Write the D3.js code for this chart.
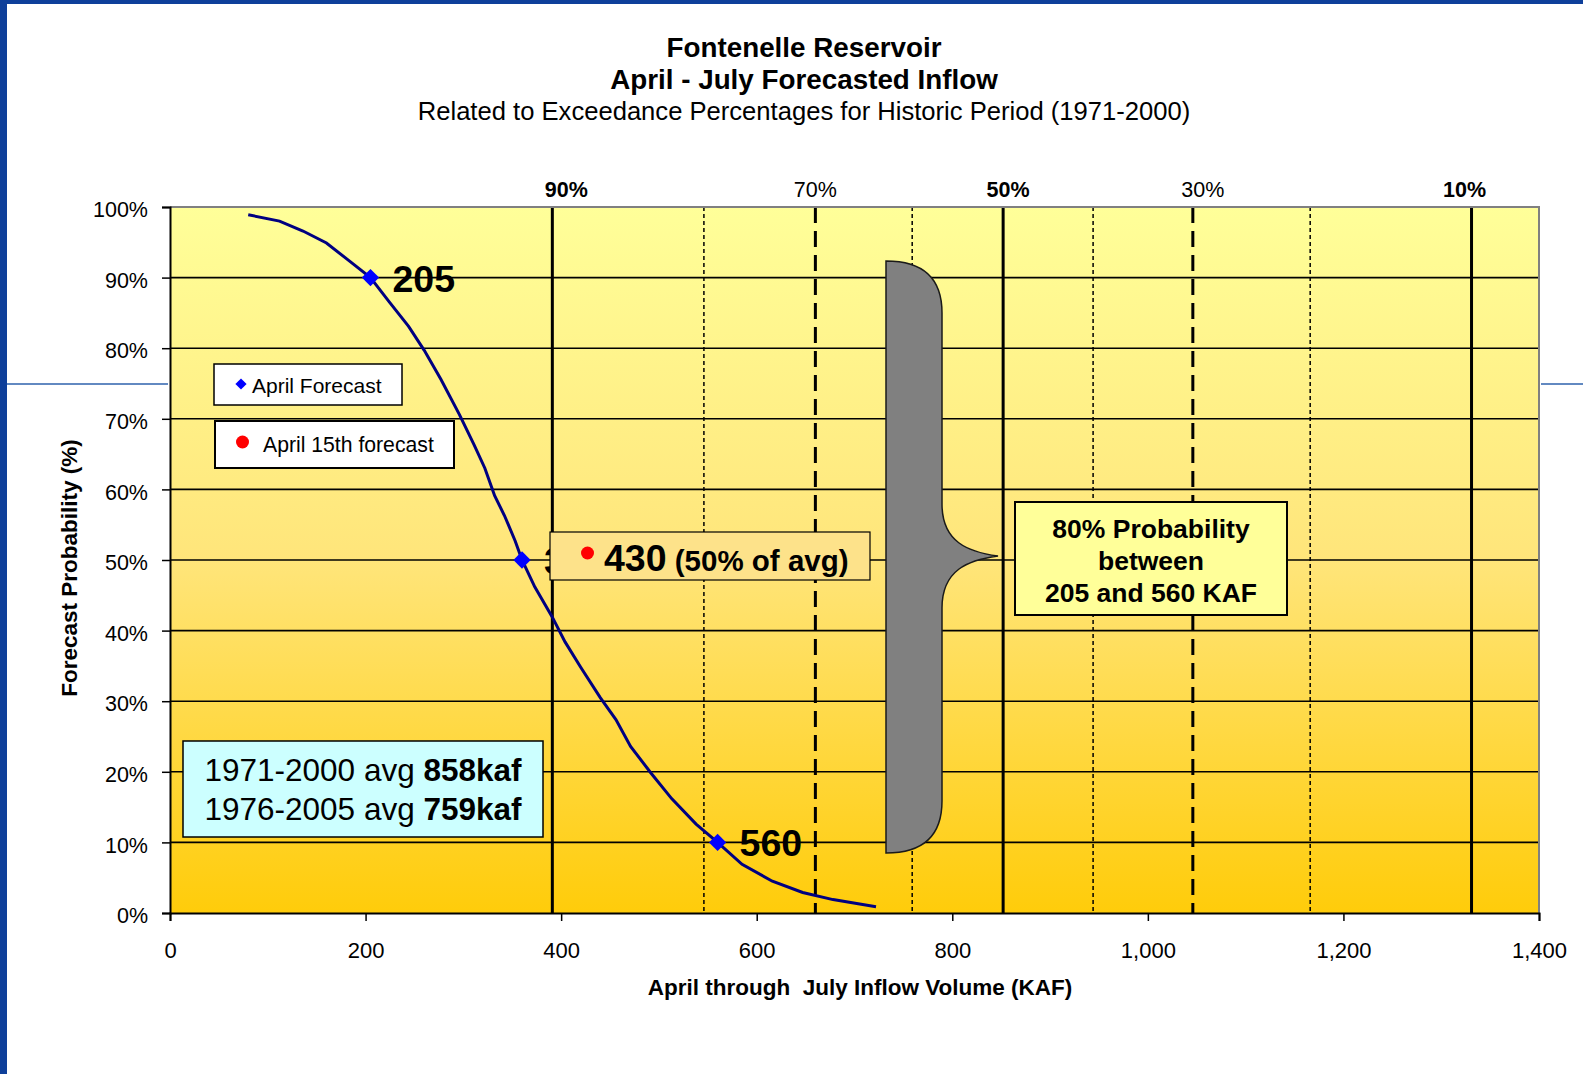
<!DOCTYPE html>
<html><head><meta charset="utf-8">
<script src="https://cdn.jsdelivr.net/npm/d3@7"></script>
<style>
html,body{margin:0;padding:0;background:#fff;}
svg{display:block;font-family:"Liberation Sans",Arial,sans-serif;}
</style></head>
<body>
<svg id="chart" width="1583" height="1074"></svg>
<script>
// ---------- data ----------
const curveVolume = [80,112,136,160,183,205,224,244,260,277,296,311,322,332,342,353,360,373,391,404,420,440,456,471,492,513,538,560,585,616,647,678,722];
const curveProb   = [98.9,98.0,96.6,94.9,92.4,90,86.6,83.1,79.7,75.6,70.6,66.3,63.0,59.1,56.3,52.7,50,46.2,41.9,38.4,34.8,30.5,27.4,23.6,19.8,16.2,12.6,10,6.9,4.5,2.9,1.9,0.9];
const forecastVolume = [205,360,560];
const forecastProb   = [90,50,10];
const forecastLabels = ["205","360","560"];
const april15Volume = [430];
const april15Prob   = [50];
const exceedVolume = [391,546,660,759,852,944,1046,1166,1331];
const exceedLabel  = ["90%","","70%","","50%","","30%","","10%"];
const exceedStyle  = ["solid","dot","dash","dot","solid","dot","dash","dot","solid"];
const exceedLabelBold = [true,false,false,false,true,false,false,false,true];
const xTicks = [0,200,400,600,800,1000,1200,1400];
const yTicks = [0,10,20,30,40,50,60,70,80,90,100];

// ---------- layout ----------
const svg = d3.select("#chart");
const L = 170, R = 1539, T = 207, B = 913;
const x = d3.scaleLinear().domain([0,1400]).range([L,R]);
const y = d3.scaleLinear().domain([0,100]).range([B,T]);

// frame decorations
svg.append("rect").attr("x",0).attr("y",0).attr("width",1583).attr("height",4).attr("fill","#0e3f9a");
svg.append("rect").attr("x",0).attr("y",0).attr("width",7).attr("height",1074).attr("fill","#0e3f9a");
svg.append("line").attr("x1",7).attr("x2",168).attr("y1",384).attr("y2",384).attr("stroke","#2e62ad").attr("stroke-width",1.5);
svg.append("line").attr("x1",1541).attr("x2",1583).attr("y1",384).attr("y2",384).attr("stroke","#2e62ad").attr("stroke-width",1.5);

// gradient
const defs = svg.append("defs");
const grad = defs.append("linearGradient").attr("id","bg").attr("x1",0).attr("y1",0).attr("x2",0).attr("y2",1);
grad.append("stop").attr("offset","0%").attr("stop-color","#ffff99");
grad.append("stop").attr("offset","50%").attr("stop-color","#ffe57a");
grad.append("stop").attr("offset","100%").attr("stop-color","#ffcc0a");
svg.append("rect").attr("x",L).attr("y",T).attr("width",R-L).attr("height",B-T).attr("fill","url(#bg)");

// horizontal gridlines
svg.append("g").selectAll("line").data(yTicks.filter(d=>d>0)).join("line")
  .attr("x1",L).attr("x2",R).attr("y1",d=>y(d)).attr("y2",d=>y(d))
  .attr("stroke","#000").attr("stroke-width",1.6);

// vertical exceedance lines
svg.append("g").selectAll("line").data(exceedVolume).join("line")
  .attr("x1",d=>x(d)).attr("x2",d=>x(d)).attr("y1",T).attr("y2",B)
  .attr("stroke","#000")
  .attr("stroke-width",(d,i)=>exceedStyle[i]==="dot"?1.5:3)
  .attr("stroke-dasharray",(d,i)=>exceedStyle[i]==="dash"?"16,8":exceedStyle[i]==="dot"?"4,3":null);

// exceedance labels
svg.append("g").selectAll("text").data(exceedVolume).join("text")
  .attr("x",(d,i)=>x(d)+[14,0,0,0,5,0,10,0,-7][i])
  .attr("y",197).attr("text-anchor","middle")
  .attr("font-size",21.5).attr("font-weight",(d,i)=>exceedLabelBold[i]?"bold":"normal")
  .text((d,i)=>exceedLabel[i]);

// plot border top/right
svg.append("path").attr("d",`M${L},${T}H${R}V${B}`).attr("fill","none").attr("stroke","#808080").attr("stroke-width",2);

// axes
const yAxis = d3.axisLeft(y).tickValues(yTicks).tickFormat(d=>d+"%").tickSize(8).tickPadding(14);
const gy = svg.append("g").attr("transform",`translate(${L},0)`).call(yAxis);
gy.select(".domain").attr("stroke","#000").attr("stroke-width",2);
gy.selectAll(".tick line").attr("stroke","#000").attr("stroke-width",1.5);
gy.selectAll("text").attr("font-size",21.5).attr("fill","#000").attr("dy","0.45em").attr("font-family","Liberation Sans, Arial");

const xAxis = d3.axisBottom(x).tickValues(xTicks).tickFormat(d3.format(",")).tickSize(8).tickPadding(21);
const gx = svg.append("g").attr("transform",`translate(0,${B})`).call(xAxis);
gx.select(".domain").attr("stroke","#000").attr("stroke-width",2);
gx.selectAll(".tick line").attr("stroke","#000").attr("stroke-width",1.5);
gx.selectAll("text").attr("font-size",22).attr("fill","#000").attr("font-family","Liberation Sans, Arial");

// axis titles
svg.append("text").attr("x",860).attr("y",995).attr("text-anchor","middle").style("white-space","pre")
  .attr("font-size",22.5).attr("font-weight","bold").text("April through  July Inflow Volume (KAF)");
svg.append("text").attr("transform","translate(77,568) rotate(-90)").attr("text-anchor","middle")
  .attr("font-size",22.5).attr("font-weight","bold").text("Forecast Probability (%)");

// titles
svg.append("text").attr("x",804).attr("y",57).attr("text-anchor","middle").attr("font-size",27.8).attr("font-weight","bold").text("Fontenelle Reservoir");
svg.append("text").attr("x",804).attr("y",89).attr("text-anchor","middle").attr("font-size",27.8).attr("font-weight","bold").text("April - July Forecasted Inflow");
svg.append("text").attr("x",804).attr("y",120).attr("text-anchor","middle").attr("font-size",25.6).text("Related to Exceedance Percentages for Historic Period (1971-2000)");

// curve
const line = d3.line().x((d,i)=>x(curveVolume[i])).y((d,i)=>y(curveProb[i]));
svg.append("path").datum(curveVolume).attr("d",line).attr("fill","none").attr("stroke","#000080").attr("stroke-width",3);

// forecast labels
svg.append("g").selectAll("text").data(forecastVolume).join("text")
  .attr("x",d=>x(d)+22).attr("y",(d,i)=>y(forecastProb[i])+14)
  .attr("font-size",37.5).attr("font-weight","bold").text((d,i)=>forecastLabels[i]);

// diamonds
const diamond = d3.symbol().type(d3.symbolDiamond2).size(190);
svg.append("g").selectAll("path").data(forecastVolume).join("path")
  .attr("transform",(d,i)=>`translate(${x(d)},${y(forecastProb[i])})`)
  .attr("d",diamond).attr("fill","#0000ff");

// 430 box
svg.append("rect").attr("x",550).attr("y",532).attr("width",320).attr("height",48)
  .attr("fill","#fde28a").attr("stroke","#000").attr("stroke-width",1.2);
svg.append("circle").attr("cx",587.5).attr("cy",553).attr("r",6.5).attr("fill","#ff0000");
const t430 = svg.append("text").attr("x",604).attr("y",571).attr("font-weight","bold");
t430.append("tspan").attr("font-size",37.5).text(april15Volume[0]);
t430.append("tspan").attr("font-size",29.5).text(" (50% of avg)");

// brace
const bx0 = 886, bx1 = 942, btip = 998, by0 = 261, by1 = 853, bym = 556;
const r = 52;
const bracePath = `M${bx0},${by0}
 C${bx0+40},${by0} ${bx1},${by0+20} ${bx1},${by0+r}
 L${bx1},${bym-r}
 C${bx1},${bym-14} ${bx1+26},${bym-4} ${btip},${bym}
 C${bx1+26},${bym+4} ${bx1},${bym+14} ${bx1},${bym+r}
 L${bx1},${by1-r}
 C${bx1},${by1-20} ${bx0+40},${by1} ${bx0},${by1} Z`;
svg.append("path").attr("d",bracePath).attr("fill","#808080").attr("stroke","#1a1a1a").attr("stroke-width",1.5);

// 80% box
svg.append("rect").attr("x",1015).attr("y",502).attr("width",272).attr("height",113)
  .attr("fill","#ffff99").attr("stroke","#000").attr("stroke-width",2);
const bt = svg.append("text").attr("text-anchor","middle").attr("font-size",26.5).attr("font-weight","bold");
[["80% Probability",528],["between",560],["205 and 560 KAF",592]].forEach(([s,yy])=>{
  bt.append("tspan").attr("x",1151).attr("y",yy+10).text(s);
});

// legend
svg.append("rect").attr("x",214).attr("y",364).attr("width",188).attr("height",41).attr("fill","#fff").attr("stroke","#000").attr("stroke-width",1.5);
svg.append("path").attr("transform","translate(241,384)").attr("d",d3.symbol().type(d3.symbolDiamond2).size(80)).attr("fill","#0000ff");
svg.append("text").attr("x",252).attr("y",393).attr("font-size",21).text("April Forecast");
svg.append("rect").attr("x",215).attr("y",421).attr("width",239).attr("height",47).attr("fill","#fff").attr("stroke","#000").attr("stroke-width",2);
svg.append("circle").attr("cx",242.5).attr("cy",442).attr("r",6.5).attr("fill","#ff0000");
svg.append("text").attr("x",263).attr("y",452).attr("font-size",21.2).text("April 15th forecast");

// avg box
svg.append("rect").attr("x",183).attr("y",741).attr("width",360).attr("height",96).attr("fill","#ccffff").attr("stroke","#000").attr("stroke-width",1.5);
const a1 = svg.append("text").attr("x",363).attr("y",781).attr("text-anchor","middle").attr("font-size",31.5);
a1.append("tspan").text("1971-2000 avg ");
a1.append("tspan").attr("font-weight","bold").text("858kaf");
const a2 = svg.append("text").attr("x",363).attr("y",820).attr("text-anchor","middle").attr("font-size",31.5);
a2.append("tspan").text("1976-2005 avg ");
a2.append("tspan").attr("font-weight","bold").text("759kaf");
</script>
</body></html>
